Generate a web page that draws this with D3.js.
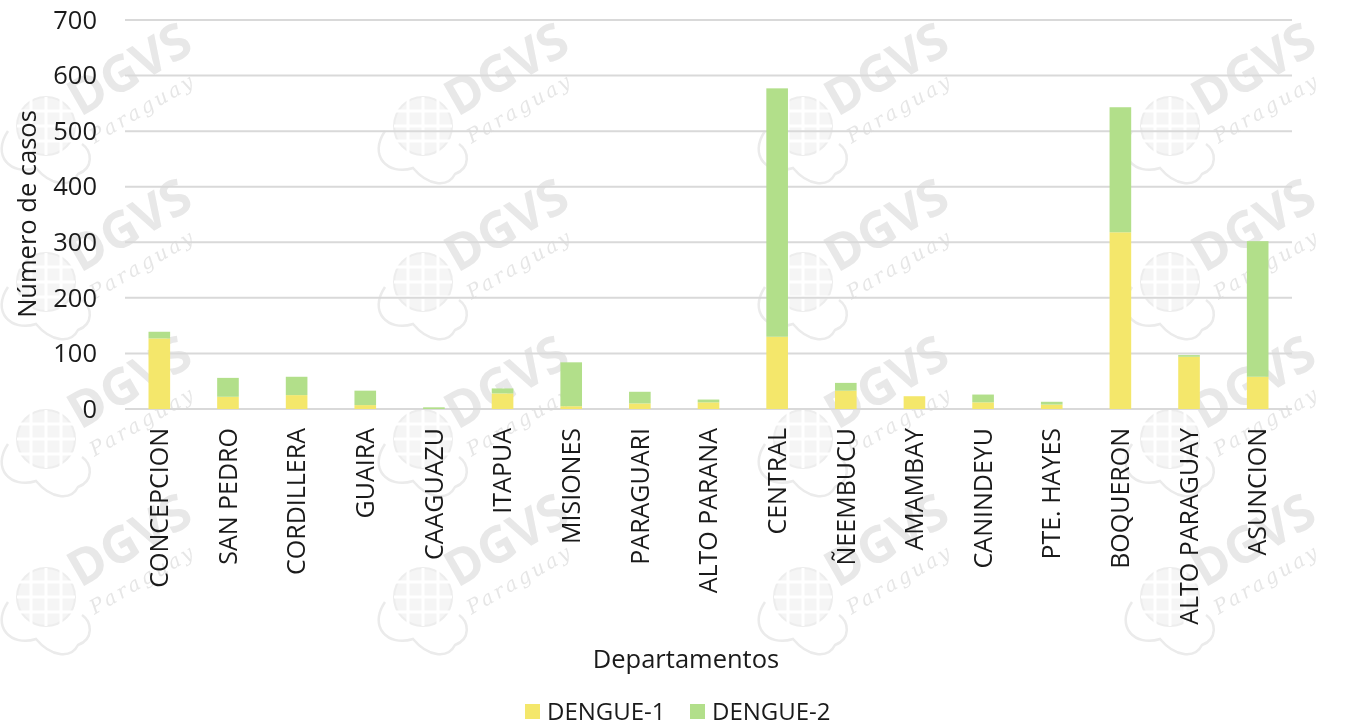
<!DOCTYPE html>
<html><head><meta charset="utf-8">
<script src="https://cdn.jsdelivr.net/npm/d3@7"></script>
<style>body{margin:0;background:#fff;}svg{display:block;font-family:"Open Sans",sans-serif;}</style>
</head><body><svg id="c" width="1350" height="728"></svg>
<script>
const categories = ["CONCEPCION","SAN PEDRO","CORDILLERA","GUAIRA","CAAGUAZU","ITAPUA","MISIONES","PARAGUARI","ALTO PARANA","CENTRAL","ÑEEMBUCU","AMAMBAY","CANINDEYU","PTE. HAYES","BOQUERON","ALTO PARAGUAY","ASUNCION"];
const dengue1 = [127,22,25,7,0,28,5,10,12,130,33,23,12,8,318,94,58];
const dengue2 = [12,34,33,26,3,9,79,21,5,447,14,0,14,5,225,3,244];
const seriesNames = ["DENGUE-1","DENGUE-2"];
const yTicks = [0,100,200,300,400,500,600,700];
const colors = ["#f4e76b","#b2df8a"];

const svg = d3.select("#c");
const m = {left:125, right:1292, top:20, bottom:409};

// watermark
const wm = svg.append("g").attr("opacity",0.42);
const wx = [138,515,895,1262], wy = [84,240,397,555];
wy.forEach(y=>wx.forEach(x=>{
  const g = wm.append("g").attr("transform",`translate(${x},${y})`);
  const gl = g.append("g").attr("transform","translate(-92,42)");
  gl.append("path").attr("d","M-38,5 C-55,30 -35,50 -10,42 C5,60 25,62 32,48 C48,42 46,25 36,18")
    .attr("fill","none").attr("stroke","#cfcfcf").attr("stroke-width",2.5);
  gl.append("circle").attr("r",29).attr("fill","#e6e6e6").attr("stroke","#d4d4d4").attr("stroke-width",2);
  [-15,0,15].forEach(d=>{
    gl.append("line").attr("x1",-29).attr("x2",29).attr("y1",d).attr("y2",d).attr("stroke","#fff").attr("stroke-width",3);
    gl.append("line").attr("y1",-29).attr("y2",29).attr("x1",d).attr("x2",d).attr("stroke","#fff").attr("stroke-width",3);
  });
  g.append("text").attr("transform","rotate(-30)").attr("x",0).attr("y",0).attr("text-anchor","middle")
    .attr("font-size",50).attr("font-weight","bold").attr("fill","#c8c8c8").text("DGVS");
  g.append("text").attr("transform","translate(8,30) rotate(-30)").attr("text-anchor","middle")
    .attr("font-size",20).attr("font-style","italic").attr("fill","#c4c4c4").attr("letter-spacing",3)
    .attr("font-family","DejaVu Serif, serif").text("Paraguay");
}));

const x = d3.scaleBand().domain(categories).range([m.left,m.right]).paddingInner(0.685).paddingOuter(0.3425);
const y = d3.scaleLinear().domain([0,700]).range([m.bottom,m.top]);

// grid
svg.append("g").selectAll("line").data(yTicks).join("line")
  .attr("x1",m.left).attr("x2",m.right).attr("y1",d=>y(d)).attr("y2",d=>y(d))
  .attr("stroke","#d9d9d9").attr("stroke-width",2);

// stacked bars
const rows = categories.map((c,i)=>({cat:c, "DENGUE-1":dengue1[i], "DENGUE-2":dengue2[i]}));
const stack = d3.stack().keys(seriesNames)(rows);
svg.append("g").selectAll("g").data(stack).join("g").attr("fill",(d,i)=>colors[i])
  .selectAll("rect").data(d=>d).join("rect")
  .attr("x",d=>x(d.data.cat)).attr("width",x.bandwidth())
  .attr("y",d=>y(d[1])).attr("height",d=>y(d[0])-y(d[1]));

// y axis labels
const ya = svg.append("g").attr("transform",`translate(${m.left},0)`)
  .call(d3.axisLeft(y).tickValues(yTicks).tickSize(0).tickPadding(28));
ya.select(".domain").remove();
ya.selectAll("text").attr("font-size",25.5).attr("font-family","Open Sans").attr("fill","#1a1a1a");

// x axis labels
const xa = svg.append("g").attr("transform",`translate(0,${m.bottom})`)
  .call(d3.axisBottom(x).tickSize(0));
xa.select(".domain").remove();
xa.selectAll("text").attr("font-size",25).attr("font-family","Open Sans").attr("fill","#1a1a1a")
  .attr("transform","rotate(-90)").attr("text-anchor","end").attr("dx","-19").attr("dy","0.35em").attr("y",0).attr("x",0);

// axis titles
svg.append("text").attr("transform","translate(36,214) rotate(-90)").attr("text-anchor","middle")
  .attr("font-size",25.5).attr("fill","#1a1a1a").text("Número de casos");
svg.append("text").attr("x",686).attr("y",668).attr("text-anchor","middle")
  .attr("font-size",25.5).attr("fill","#1a1a1a").text("Departamentos");

// legend
const lg = svg.append("g");
const lx = [525,690];
seriesNames.forEach((s,i)=>{
  lg.append("rect").attr("x",lx[i]).attr("y",704).attr("width",15).attr("height",15).attr("fill",colors[i]);
  lg.append("text").attr("x",lx[i]+22).attr("y",720).attr("font-size",24).attr("fill","#1a1a1a").text(s);
});
</script></body></html>
